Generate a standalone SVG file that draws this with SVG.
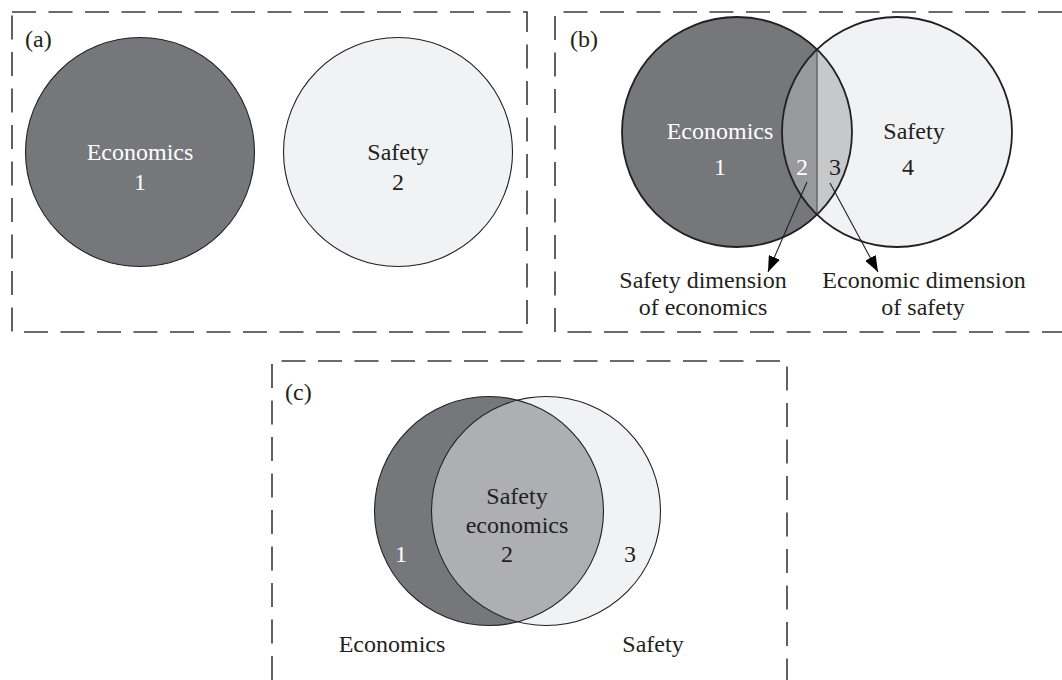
<svg xmlns="http://www.w3.org/2000/svg" width="1062" height="680" viewBox="0 0 1062 680">
<style>
.frame{fill:none;stroke:#3a3a3a;stroke-width:1.6;stroke-dasharray:24 12.5}
.econ{fill:#76777b}
.safe{fill:#f1f2f4}
.ol{fill:none;stroke:#231f20;stroke-width:1.1}
.olb{fill:none;stroke:#231f20;stroke-width:1.8}
text{font-family:"Liberation Serif","Times New Roman",serif;font-size:24px;fill:#231f20}
.w{fill:#ffffff}
.c{text-anchor:middle}
.con{stroke:#231f20;stroke-width:1.1;fill:none}
</style>
<defs>
<marker id="ah" markerUnits="userSpaceOnUse" viewBox="0 0 16 12" refX="16" refY="6" markerWidth="16" markerHeight="12" orient="auto">
<path d="M0,0 L16,6 L0,12 z" fill="#000"/>
</marker>
</defs>
<rect fill="#fff" x="0" y="0" width="1062" height="680"/>

<g id="panel-a">
<rect class="frame" x="12" y="12" width="515" height="320"/>
<text x="25" y="47">(a)</text>
<g id="a-economics">
<circle class="econ" cx="140" cy="152" r="114.5"/>
<circle class="ol" cx="140" cy="152" r="114.5"/>
<text class="c w" x="140" y="160">Economics</text>
<text class="c w" x="140" y="190">1</text>
</g>
<g id="a-safety">
<circle class="safe" cx="398" cy="152" r="114.5"/>
<circle class="ol" cx="398" cy="152" r="114.5"/>
<text class="c" x="398" y="160">Safety</text>
<text class="c" x="398" y="190">2</text>
</g>
</g>

<g id="panel-b">
<path class="frame" d="M1062 12 H555 V332 H1062"/>
<text x="570" y="47">(b)</text>
<g id="b-economics">
<circle class="econ" cx="737" cy="132" r="115"/>
</g>
<g id="b-safety">
<circle class="safe" cx="897" cy="132" r="115"/>
</g>
<g id="b-region2">
<path d="M817 49.4 A115 115 0 0 0 817 214.6 Z" fill="#98999d"/>
</g>
<g id="b-region3">
<path d="M817 49.4 A115 115 0 0 1 817 214.6 Z" fill="#c7c8ca"/>
</g>
<line x1="817" y1="49.4" x2="817" y2="214.6" stroke="#6a6b6f" stroke-width="1.6"/>
<circle class="olb" cx="737" cy="132" r="115"/>
<circle class="olb" cx="897" cy="132" r="115"/>
<text class="c w" x="720" y="139">Economics</text>
<text class="c w" x="720" y="175">1</text>
<text class="c w" x="802" y="175">2</text>
<text class="c" x="835" y="175">3</text>
<text class="c" x="914" y="139">Safety</text>
<text class="c" x="908" y="175">4</text>
<g id="b-label-left">
<text class="c" x="703" y="288">Safety dimension</text>
<text class="c" x="703" y="315">of economics</text>
</g>
<g id="b-label-right">
<text class="c" x="924" y="288">Economic dimension</text>
<text class="c" x="923" y="315">of safety</text>
</g>
</g>

<g id="connectors">
<line class="con" x1="807" y1="182" x2="768" y2="272" marker-end="url(#ah)"/>
<line class="con" x1="830" y1="183" x2="878" y2="272" marker-end="url(#ah)"/>
</g>

<g id="panel-c">
<path class="frame" d="M272 680 V361 H787 V680"/>
<text x="285" y="400">(c)</text>
<g id="c-economics">
<circle class="econ" cx="489" cy="511" r="114.5"/>
</g>
<g id="c-safety">
<circle class="safe" cx="546" cy="511" r="114.5"/>
</g>
<g id="c-safety-economics">
<path d="M517.5 400.1 A114.5 114.5 0 0 1 517.5 621.9 A114.5 114.5 0 0 1 517.5 400.1 Z" fill="#aeafb2"/>
</g>
<circle class="ol" cx="489" cy="511" r="114.5"/>
<circle class="ol" cx="546" cy="511" r="114.5"/>
<text class="c" x="517" y="504">Safety</text>
<text class="c" x="517" y="533">economics</text>
<text class="c" x="507" y="562">2</text>
<text class="c w" x="401" y="562">1</text>
<text class="c" x="630" y="562">3</text>
<text class="c" x="392" y="652">Economics</text>
<text class="c" x="653" y="652">Safety</text>
</g>
</svg>
